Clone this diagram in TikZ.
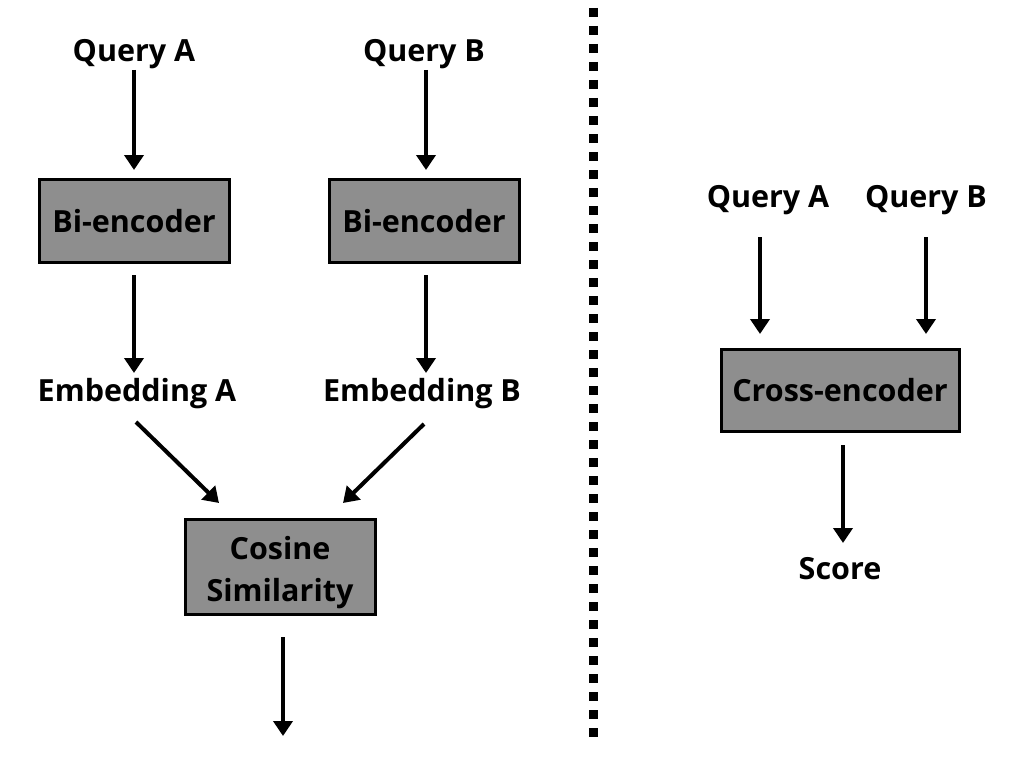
\documentclass[tikz,border=0pt]{standalone}
\usepackage{fontspec}
\setmainfont{Open Sans}
\usetikzlibrary{arrows.meta}
\definecolor{boxgray}{HTML}{8E8E8E}
\tikzset{
  lbl/.style={font=\fontsize{30.5}{36}\selectfont\bfseries, text=black, inner sep=0pt},
  enc/.style={draw=black, line width=3pt, fill=boxgray, inner sep=0pt, font=\fontsize{30.5}{42}\selectfont\bfseries, align=center},
  arr/.style={line width=4pt, -{Triangle[length=15pt,width=19pt]}},
  sep/.style={line width=9pt, dash pattern=on 9pt off 9pt}
}
\begin{document}
\begin{tikzpicture}[x=1pt,y=-1pt]
\useasboundingbox (0,0) rectangle (1018,768);
% left column
\node[lbl] (qa) at (134,54) {Query A};
\node[lbl] (qb) at (424,54) {Query B};
\node[enc, minimum width=190pt, minimum height=83pt] (be1) at (134,221) {Bi-encoder};
\node[enc, minimum width=190pt, minimum height=83pt] (be2) at (424,221) {Bi-encoder};
\node[lbl] (ea) at (137,394) {Embedding A};
\node[lbl] (eb) at (422,394) {Embedding B};
\node[enc, minimum width=190pt, minimum height=95pt] (cos) at (280,566.5) {\rule{0pt}{35pt}Cosine\\Similarity};
\coordinate (qa1) at (134,70);
\coordinate (qa2) at (134,170);
\coordinate (qb1) at (426,70);
\coordinate (qb2) at (426,170);
\coordinate (b1a) at (134,275);
\coordinate (b1b) at (134,373);
\coordinate (b2a) at (426,275);
\coordinate (b2b) at (426,373);
\coordinate (d1a) at (136,422);
\coordinate (d1b) at (219,503);
\coordinate (d2a) at (424,424);
\coordinate (d2b) at (343,503);
\coordinate (oa) at (283,637);
\coordinate (ob) at (283,736);
\draw[arr] (qa1) -- (qa2);
\draw[arr] (qb1) -- (qb2);
\draw[arr] (b1a) -- (b1b);
\draw[arr] (b2a) -- (b2b);
\draw[arr] (d1a) -- (d1b);
\draw[arr] (d2a) -- (d2b);
\draw[arr] (oa) -- (ob);
% separator
\coordinate (s1) at (593,8);
\coordinate (s2) at (593,740);
\draw[sep] (s1) -- (s2);
% right column
\node[lbl] (rqa) at (768,200) {Query A};
\node[lbl] (rqb) at (926,200) {Query B};
\node[enc, minimum width=238pt, minimum height=82pt] (ce) at (840,390) {Cross-encoder};
\node[lbl] (sc) at (840,569) {Score};
\coordinate (r1a) at (760,237);
\coordinate (r1b) at (760,334);
\coordinate (r2a) at (926,237);
\coordinate (r2b) at (926,334);
\coordinate (ca) at (843,445);
\coordinate (cb) at (843,543);
\draw[arr] (r1a) -- (r1b);
\draw[arr] (r2a) -- (r2b);
\draw[arr] (ca) -- (cb);
\end{tikzpicture}
\end{document}
